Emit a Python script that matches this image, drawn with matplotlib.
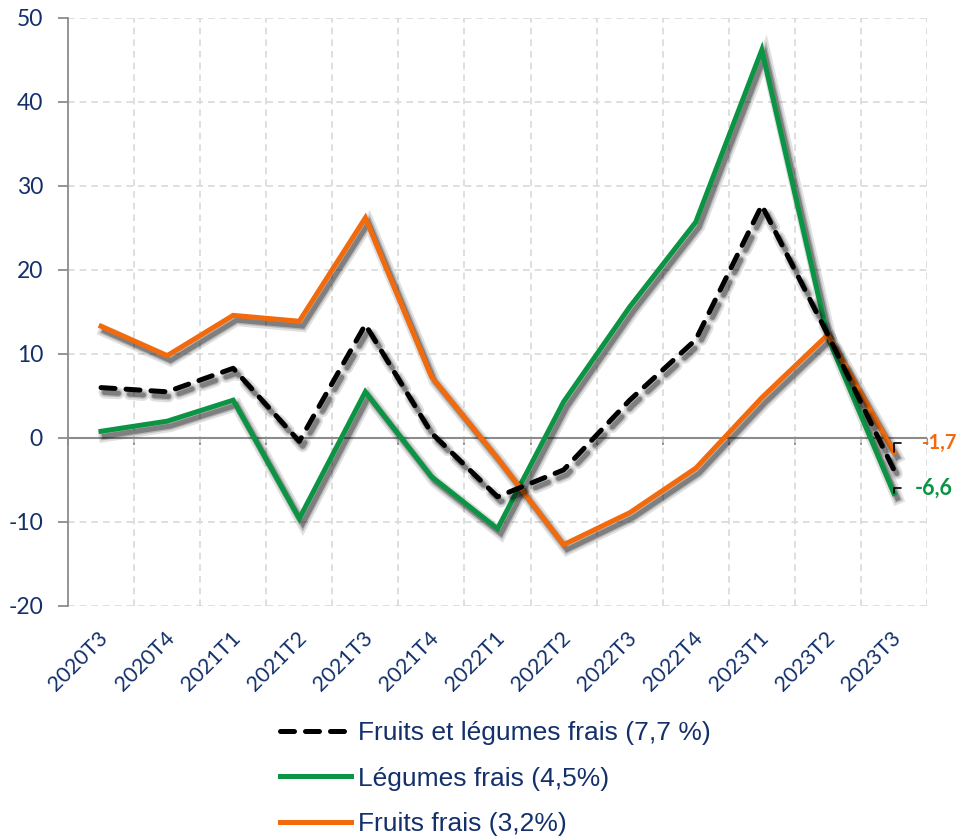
import numpy as np
import matplotlib
matplotlib.use('Agg')
import matplotlib.pyplot as plt
import matplotlib.patheffects as pe
from matplotlib.transforms import ScaledTranslation

# ---------------- data ----------------
quarters = ['2020T3', '2020T4', '2021T1', '2021T2', '2021T3', '2021T4', '2022T1',
            '2022T2', '2022T3', '2022T4', '2023T1', '2023T2', '2023T3']
fruits_legumes = [6.0, 5.5, 8.3, -0.4, 13.5, 0.6, -7.0, -3.8, 4.5, 11.7, 27.7, 12.3, -3.8]
legumes = [0.8, 2.0, 4.5, -9.6, 5.5, -4.6, -10.8, 4.3, 15.6, 25.7, 46.2, 12.0, -6.6]
fruits = [13.3, 9.8, 14.6, 13.9, 26.2, 7.3, -2.4, -12.7, -8.9, -3.6, 4.8, 12.3, -1.7]
series_labels = ['Fruits et légumes frais (7,7 %)', 'Légumes frais (4,5%)', 'Fruits frais (3,2%)']
y_ticks = [-20, -10, 0, 10, 20, 30, 40, 50]

NAVY = '#13306b'
GREEN = '#0b9444'
ORANGE = '#f26a0c'
GRID = '#d9d9d9'
AXIS = '#8c8c8c'

plt.rcParams['font.family'] = ['Lato', 'DejaVu Sans']
plt.rcParams['axes.unicode_minus'] = False

fig = plt.figure(figsize=(9.57, 8.36), dpi=100)
ax = fig.add_axes([68 / 957, 1 - 606 / 836, (927 - 68) / 957, (606 - 18) / 836])

x = np.arange(len(quarters))
lw = 3.6


def shadow(lw):
    # soft grey drop shadow, like the Excel one
    return [pe.SimpleLineShadow(offset=(2.5, -3.5), shadow_color='black', alpha=0.12, linewidth=lw + 5),
            pe.SimpleLineShadow(offset=(2.5, -3.5), shadow_color='black', alpha=0.18, linewidth=lw + 2),
            pe.SimpleLineShadow(offset=(2.5, -3.5), shadow_color='black', alpha=0.3, linewidth=lw),
            pe.Normal()]


l_green, = ax.plot(x, legumes, color=GREEN, lw=lw, solid_joinstyle='miter',
                   path_effects=shadow(lw), zorder=3)
l_orange, = ax.plot(x, fruits, color=ORANGE, lw=lw, solid_joinstyle='miter',
                    path_effects=shadow(lw), zorder=4)
l_black, = ax.plot(x, fruits_legumes, color='black', lw=lw, dashes=(2.8, 2.2),
                   dash_capstyle='round', path_effects=shadow(lw), zorder=5)

# axes styling
ax.set_xlim(-0.5, len(quarters) - 0.5)
ax.set_ylim(-20, 50)
ax.set_yticks(y_ticks)
ax.set_xticks(x)
ax.set_xticks(np.arange(len(quarters) + 1) - 0.5, minor=True)
ax.grid(axis='x', which='minor', color=GRID, ls=(0, (4, 3)), lw=1.2)
ax.grid(axis='y', which='major', color=GRID, ls=(0, (4, 3)), lw=1.2)
ax.set_axisbelow(True)
for s in ['top', 'right', 'bottom']:
    ax.spines[s].set_visible(False)
ax.spines['left'].set_color(AXIS)
ax.spines['left'].set_linewidth(1.3)
ax.axhline(0, color=AXIS, lw=1.5, zorder=2)

ax.tick_params(axis='y', length=7, width=1.3, color=AXIS, pad=11, labelsize=16.5, labelcolor=NAVY)
ax.tick_params(axis='x', which='both', length=0, pad=21, labelsize=15.5, labelcolor=NAVY)
ax.set_xticklabels(quarters, rotation=45, ha='right', va='center', rotation_mode='anchor')
for lab in ax.get_xticklabels():
    lab.set_transform(lab.get_transform() + ScaledTranslation(0.04, 0, fig.dpi_scale_trans))

# tick marks on the zero line
sec = ax.secondary_xaxis(20 / 70)
sec.set_xticks(np.arange(len(quarters) + 1) - 0.5)
sec.tick_params(length=5, width=1.3, color=AXIS, labelbottom=False)
sec.spines['bottom'].set_visible(False)

# end labels
ax.annotate('-1,7', xy=(x[-1], fruits[-1]), xytext=(28, 9), textcoords='offset pixels',
            ha='left', va='center', fontsize=14.5, fontweight='bold', color=ORANGE,
            arrowprops=dict(arrowstyle='-', color='black', lw=1.2, shrinkA=13, shrinkB=0,
                            connectionstyle='angle,angleA=0,angleB=90,rad=0'),
            annotation_clip=False, zorder=6)
ax.annotate('-6,6', xy=(x[-1], legumes[-1]), xytext=(21, 5), textcoords='offset pixels',
            ha='left', va='center', fontsize=15.5, fontweight='bold', color=GREEN,
            arrowprops=dict(arrowstyle='-', color='black', lw=1.2, shrinkA=8, shrinkB=0,
                            connectionstyle='angle,angleA=0,angleB=90,rad=0'),
            annotation_clip=False, zorder=6)

leg = fig.legend([l_black, l_green, l_orange], series_labels, loc='upper left',
                 bbox_to_anchor=(280 / 957, 1 - 721 / 836), frameon=False,
                 prop={'family': 'Liberation Sans', 'size': 19}, handlelength=2.7,
                 handletextpad=0.25, labelspacing=0.82, borderpad=0, borderaxespad=0)
for t in leg.get_texts():
    t.set_color(NAVY)
for h in leg.legend_handles:
    h.set_path_effects([])

fig.savefig('out.png', dpi=100)
